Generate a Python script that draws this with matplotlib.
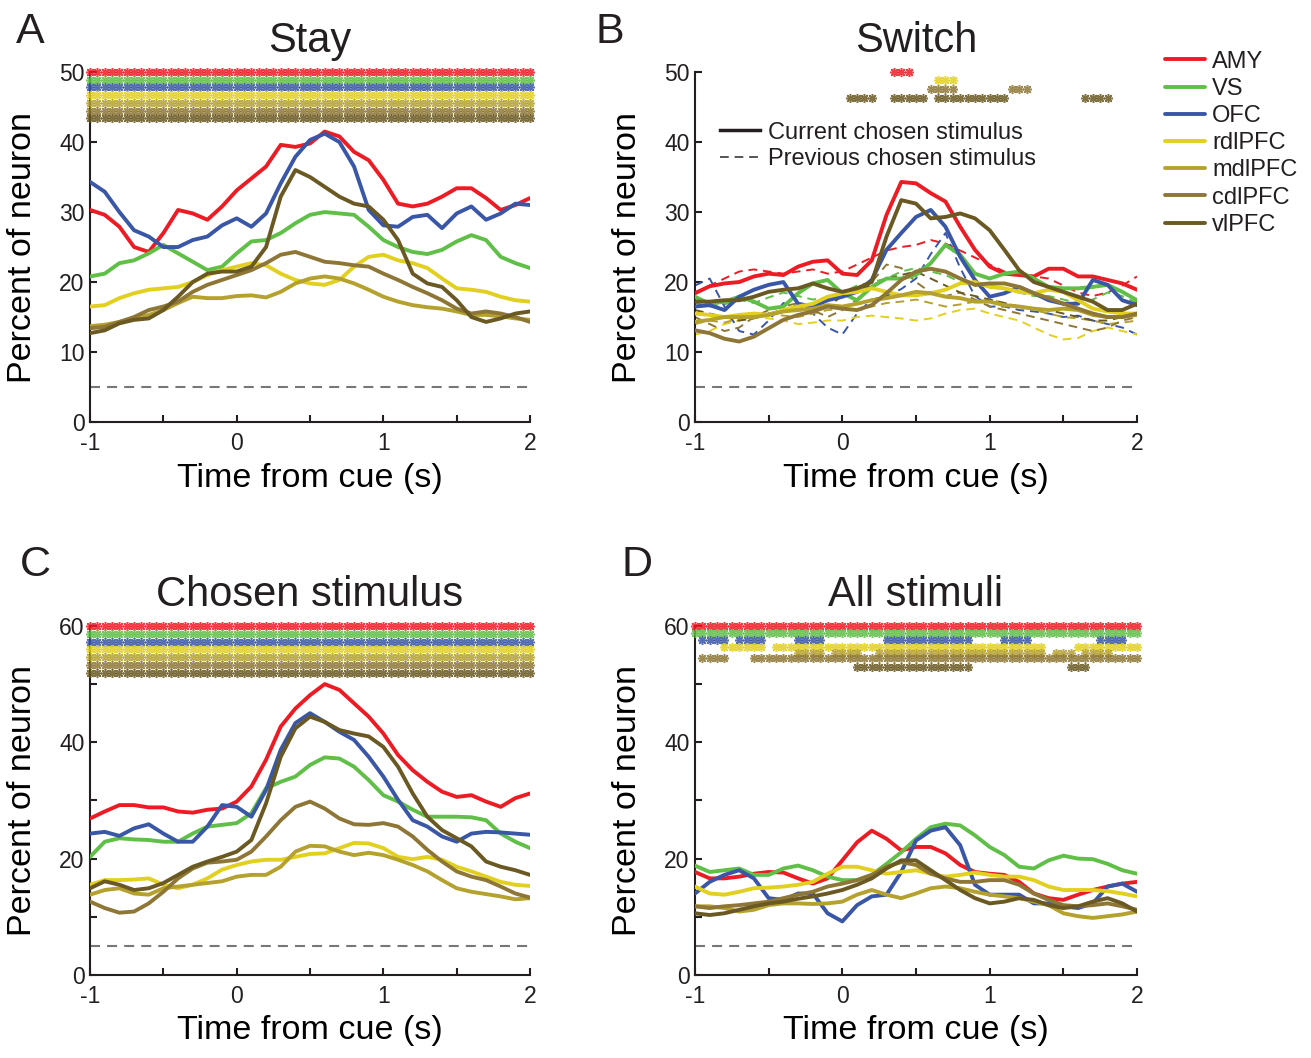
import numpy as np
import matplotlib
matplotlib.use('Agg')
import matplotlib.pyplot as plt
from matplotlib.lines import Line2D

plt.rcParams['font.family'] = ['Liberation Sans', 'DejaVu Sans']
plt.rcParams['text.color'] = '#231f20'

regions = ['AMY', 'VS', 'OFC', 'rdlPFC', 'mdlPFC', 'cdlPFC', 'vlPFC']
colors = ['#ed1c24', '#5fbf46', '#3a56a6', '#e2d020', '#b5a22e', '#8e7736', '#6a5922']

# time from cue (s), 0.1 s steps
time = np.round(np.arange(-1, 2.001, 0.1), 2)
chance = 5

# ---- A: Stay ----
stay_amy = [30.3, 29.6, 27.9, 25.0, 24.3, 27.0, 30.3, 29.8, 28.9, 30.8, 33.1, 34.8, 36.5, 39.6, 39.3, 39.8,
            41.5, 40.8, 38.6, 37.4, 34.6, 31.2, 30.8, 31.2, 32.2, 33.4, 33.4, 32.0, 30.3, 31.0, 32.0]
stay_vs = [20.8, 21.2, 22.7, 23.1, 24.1, 25.3, 24.1, 22.9, 21.7, 22.2, 24.1, 25.8, 26.0, 27.0, 28.4, 29.6,
           30.0, 29.8, 29.6, 27.9, 26.0, 25.0, 24.3, 24.0, 24.6, 25.8, 26.7, 26.0, 23.6, 22.7, 22.0]
stay_ofc = [34.3, 32.9, 30.0, 27.4, 26.5, 25.0, 25.0, 26.0, 26.5, 28.1, 29.1, 27.9, 29.8, 34.1, 37.9, 40.3,
            41.2, 40.0, 36.5, 30.3, 28.1, 27.9, 29.3, 29.6, 27.7, 29.8, 30.8, 28.9, 29.8, 31.2, 31.0]
stay_rdl = [16.5, 16.7, 17.7, 18.4, 18.9, 19.1, 19.3, 20.0, 21.0, 21.7, 22.2, 22.7, 22.4, 21.2, 20.3, 19.8,
            19.6, 20.3, 22.2, 23.6, 23.9, 23.1, 22.7, 22.0, 20.5, 19.1, 18.9, 18.6, 17.9, 17.4, 17.2]
stay_mdl = [13.7, 13.9, 14.3, 14.8, 15.3, 16.0, 17.0, 17.9, 17.7, 17.7, 18.0, 18.1, 17.8, 18.6, 19.8, 20.5,
            20.8, 20.5, 19.8, 18.9, 17.9, 17.2, 16.7, 16.4, 16.2, 15.8, 15.3, 15.3, 15.1, 14.8, 14.6]
stay_cdl = [13.4, 13.6, 14.3, 15.0, 16.0, 16.5, 17.2, 18.6, 19.6, 20.3, 21.0, 21.7, 22.7, 23.9, 24.3, 23.6,
            22.9, 22.7, 22.4, 22.2, 21.2, 20.3, 19.3, 18.4, 17.4, 16.2, 15.5, 15.8, 15.5, 15.0, 14.3]
stay_vl = [12.7, 13.1, 14.1, 14.6, 14.8, 16.0, 17.9, 20.0, 21.2, 21.5, 21.5, 22.2, 25.0, 32.2, 36.0, 35.0,
           33.6, 32.2, 31.2, 30.8, 28.9, 26.0, 21.2, 19.8, 19.3, 17.4, 15.0, 14.3, 14.8, 15.5, 15.8]

# ---- B: Switch, current chosen stimulus ----
switch_amy = [18.4, 19.4, 19.8, 20.0, 20.8, 21.2, 21.0, 22.2, 22.9, 23.1, 21.2, 21.0, 23.1, 29.6, 34.3, 34.1,
              32.7, 31.5, 27.9, 24.6, 22.2, 21.2, 21.0, 20.8, 21.9, 21.9, 20.8, 20.8, 20.3, 19.8, 18.9]
switch_vs = [17.9, 16.9, 17.2, 17.9, 17.2, 16.2, 16.5, 18.4, 19.8, 20.3, 18.4, 17.4, 19.3, 20.5, 20.5, 21.0,
             22.7, 25.3, 23.9, 21.2, 20.5, 21.2, 21.5, 20.5, 19.3, 19.1, 19.1, 19.3, 19.6, 18.6, 17.4]
switch_ofc = [16.5, 16.7, 16.0, 17.9, 18.9, 19.6, 20.0, 16.9, 16.5, 17.4, 17.9, 18.6, 20.3, 24.6, 27.0, 29.3,
              30.3, 27.9, 23.6, 20.3, 17.9, 18.4, 19.3, 18.4, 17.4, 16.9, 16.9, 20.3, 19.6, 17.4, 16.7]
switch_rdl = [15.5, 15.3, 15.0, 15.3, 15.5, 15.3, 16.0, 16.5, 16.9, 17.9, 18.4, 18.6, 19.1, 18.6, 18.1, 18.1,
              18.4, 18.9, 19.8, 20.0, 19.3, 19.1, 18.6, 18.4, 18.9, 18.6, 17.4, 16.2, 15.8, 15.5, 15.5]
switch_mdl = [14.3, 14.6, 15.0, 15.0, 15.0, 15.3, 15.8, 16.0, 16.2, 16.7, 16.5, 16.9, 17.4, 17.7, 18.1, 18.6,
              18.4, 17.9, 17.7, 17.2, 17.2, 16.7, 16.5, 16.2, 16.0, 16.2, 16.0, 15.3, 15.0, 15.0, 15.3]
switch_cdl = [13.1, 12.7, 11.9, 11.5, 12.2, 13.4, 14.6, 15.3, 15.8, 16.5, 16.2, 16.0, 16.7, 18.4, 20.3, 21.5,
              21.9, 21.5, 20.5, 19.6, 19.8, 19.8, 19.3, 18.4, 17.7, 16.9, 16.2, 15.5, 15.0, 15.0, 15.5]
switch_vl = [17.2, 17.2, 17.4, 17.4, 17.9, 18.6, 18.9, 19.1, 19.8, 19.1, 18.6, 19.1, 20.0, 26.5, 31.7, 31.2,
             29.1, 29.3, 29.8, 29.1, 27.4, 24.6, 21.7, 20.0, 19.3, 18.6, 17.9, 17.2, 16.0, 16.0, 16.9]

# ---- B: Switch, previous chosen stimulus ----
prev_amy = [18.5, 19.5, 20.5, 21.5, 21.8, 21.5, 21.2, 21.5, 21.8, 21.2, 21.5, 22.5, 23.5, 24.5, 25.0, 25.3,
            26.0, 25.5, 24.5, 23.5, 22.5, 21.5, 21.0, 20.8, 20.5, 19.5, 18.5, 18.0, 18.5, 19.5, 20.8]
prev_vs = [17.0, 16.5, 16.8, 17.5, 17.0, 17.8, 18.5, 18.0, 17.5, 17.8, 18.5, 19.5, 20.0, 20.5, 21.5, 22.0,
           21.5, 21.0, 20.0, 19.5, 19.5, 19.0, 18.5, 18.0, 18.0, 17.5, 17.0, 17.5, 18.5, 18.0, 17.0]
prev_ofc = [19.5, 20.5, 16.5, 13.0, 12.5, 14.5, 17.0, 16.5, 15.5, 13.5, 12.5, 15.5, 17.5, 18.0, 19.0, 20.5,
            24.0, 27.0, 22.0, 18.0, 16.5, 16.5, 16.0, 15.8, 15.5, 15.0, 15.2, 14.5, 14.0, 13.5, 12.5]
prev_rdl = [12.5, 13.0, 14.0, 14.5, 15.0, 14.8, 14.5, 14.0, 14.2, 14.5, 14.5, 15.0, 15.2, 15.0, 14.8, 14.5,
            14.8, 15.5, 16.0, 16.2, 15.5, 15.0, 14.5, 13.5, 12.5, 11.8, 12.0, 13.0, 13.5, 13.0, 12.5]
prev_mdl = [14.0, 14.5, 14.2, 14.8, 15.2, 15.5, 15.2, 15.0, 15.5, 16.0, 16.2, 16.0, 16.5, 17.0, 17.2, 17.5,
            17.0, 16.5, 16.8, 17.2, 17.5, 17.0, 16.5, 16.0, 15.5, 15.0, 14.8, 14.5, 14.0, 14.2, 14.5]
prev_cdl = [15.0, 14.0, 13.0, 13.5, 15.0, 16.0, 16.5, 17.0, 16.0, 15.0, 16.0, 17.5, 20.0, 22.5, 22.0, 20.0,
            18.5, 18.0, 18.5, 17.5, 16.5, 16.0, 15.5, 15.0, 14.5, 14.0, 13.5, 13.0, 13.5, 14.5, 15.0]
prev_vl = [16.0, 15.5, 15.0, 14.5, 14.8, 15.5, 16.0, 16.5, 16.0, 16.5, 18.0, 19.0, 19.5, 20.5, 21.0, 21.5,
           20.5, 19.5, 18.5, 18.0, 17.5, 17.0, 16.5, 16.2, 16.0, 15.5, 15.0, 14.5, 14.5, 15.0, 15.5]

# ---- C: Chosen stimulus ----
chosen_amy = [26.9, 28.1, 29.2, 29.2, 28.8, 28.8, 28.1, 27.9, 28.4, 28.6, 29.8, 32.4, 37.0, 42.7, 45.8, 48.1,
              50.0, 49.0, 46.7, 44.4, 41.5, 37.8, 35.2, 33.2, 31.5, 30.6, 30.9, 29.8, 28.9, 30.4, 31.2]
chosen_vs = [20.3, 22.9, 23.5, 23.3, 23.2, 22.9, 22.9, 24.3, 25.5, 25.8, 26.1, 27.8, 32.1, 33.2, 34.1, 36.1,
             37.4, 37.2, 35.8, 33.5, 30.9, 29.8, 28.4, 27.2, 27.2, 27.2, 27.1, 26.6, 24.3, 22.9, 21.8]
chosen_ofc = [24.3, 24.6, 23.9, 25.2, 25.9, 24.3, 22.9, 22.9, 25.5, 29.2, 28.9, 27.2, 31.8, 38.7, 43.3, 45.0,
              43.5, 41.8, 40.4, 37.5, 34.1, 30.1, 26.6, 25.5, 23.8, 22.9, 24.3, 24.6, 24.5, 24.3, 24.1]
chosen_rdl = [15.5, 16.3, 16.3, 16.4, 16.6, 15.5, 14.9, 15.5, 16.6, 18.1, 18.9, 19.5, 19.8, 19.8, 20.3, 20.8,
              20.9, 21.8, 22.7, 22.6, 21.8, 20.3, 19.9, 20.3, 19.8, 18.6, 17.8, 16.9, 16.0, 15.5, 15.3]
chosen_mdl = [13.8, 14.6, 14.9, 14.0, 13.8, 14.9, 15.2, 15.5, 15.8, 16.1, 16.9, 17.2, 17.2, 18.6, 21.2, 22.2,
              22.1, 21.2, 20.6, 21.0, 20.6, 19.8, 18.9, 17.8, 16.3, 14.9, 14.3, 13.9, 13.5, 13.0, 13.2]
chosen_cdl = [12.6, 11.5, 10.7, 10.9, 12.3, 14.3, 16.6, 18.3, 19.3, 19.5, 19.8, 21.2, 23.8, 26.6, 28.9, 29.8,
              28.6, 26.9, 25.9, 25.8, 26.1, 25.5, 23.8, 21.5, 19.5, 17.8, 16.9, 16.3, 15.2, 14.0, 13.3]
chosen_vl = [14.9, 16.1, 15.5, 14.6, 14.9, 15.8, 17.2, 18.6, 19.5, 20.3, 21.2, 23.2, 29.5, 37.5, 42.4, 44.4,
             43.5, 42.1, 41.5, 41.0, 39.2, 35.8, 31.2, 27.2, 24.9, 23.5, 22.1, 19.5, 18.6, 18.0, 17.2]

# ---- D: All stimuli ----
all_amy = [17.7, 16.6, 16.6, 16.9, 17.4, 17.7, 17.6, 16.6, 15.7, 16.6, 19.7, 22.8, 24.8, 23.4, 21.4, 22.0,
           22.0, 20.9, 18.9, 17.7, 17.4, 17.2, 16.0, 14.0, 13.2, 12.9, 13.8, 14.6, 15.2, 15.7, 16.0]
all_vs = [18.8, 17.7, 18.0, 18.3, 17.2, 17.2, 18.3, 18.8, 18.0, 16.9, 16.3, 16.3, 17.2, 19.1, 21.1, 23.4,
          25.4, 26.0, 25.7, 24.0, 22.0, 20.6, 18.6, 18.3, 19.7, 20.5, 20.0, 19.9, 19.1, 18.0, 17.4]
all_ofc = [14.0, 16.0, 17.2, 18.0, 16.6, 13.2, 12.9, 14.0, 14.0, 10.6, 9.2, 12.0, 13.5, 13.8, 17.7, 23.1,
           24.8, 25.4, 22.3, 15.5, 13.8, 13.8, 13.8, 12.3, 12.3, 11.8, 11.5, 12.3, 15.2, 15.7, 14.3]
all_rdl = [15.2, 14.0, 13.8, 14.3, 14.9, 15.0, 15.2, 15.5, 16.0, 17.4, 18.6, 18.6, 18.0, 17.4, 17.7, 18.0,
           17.4, 16.9, 17.2, 17.6, 17.2, 16.9, 16.9, 16.3, 15.2, 14.6, 14.6, 14.6, 14.4, 14.0, 13.5]
all_mdl = [11.8, 11.8, 11.5, 10.9, 11.2, 12.0, 12.3, 12.3, 12.2, 12.3, 12.6, 13.8, 14.6, 13.8, 13.2, 14.0,
           14.9, 15.2, 14.9, 14.3, 13.8, 13.5, 13.2, 12.6, 12.0, 10.6, 10.1, 9.8, 10.1, 10.4, 10.9]
all_cdl = [11.8, 11.5, 11.8, 12.0, 12.3, 12.6, 13.2, 13.8, 14.3, 15.2, 15.7, 16.3, 17.2, 18.6, 19.4, 18.9,
           17.4, 16.6, 16.0, 16.0, 16.3, 16.3, 15.5, 14.0, 12.9, 12.0, 11.8, 12.0, 12.3, 11.8, 11.2]
all_vl = [10.6, 10.3, 10.6, 11.2, 11.8, 12.3, 12.6, 13.1, 13.5, 14.0, 14.6, 15.5, 16.6, 18.3, 19.7, 19.7,
          18.0, 16.3, 14.6, 13.2, 12.3, 12.6, 13.2, 12.9, 12.0, 11.5, 11.8, 12.6, 13.2, 12.3, 10.9]

# significance rows: (start, end) segments of significant 50 ms bins, per region
full = [(-1, 2)]
stay_sig = [full] * 7
stay_sig_y = [50, 48.9, 47.8, 46.7, 45.6, 44.5, 43.4]
chosen_sig = [full] * 7
chosen_sig_y = [60, 58.6, 57.3, 56.0, 54.6, 53.2, 51.9]
all_sig = [full, full,
           [(-0.95, -0.8), (-0.7, -0.55), (-0.3, -0.15), (0.3, 0.85), (1.1, 1.25), (1.75, 1.9)],
           [(-0.8, -0.55), (-0.45, -0.35), (-0.3, 1.35), (1.6, 2.0)],
           [(-0.3, -0.15), (-0.05, 0.1), (0.25, 1.35), (1.45, 1.55), (1.65, 1.8)],
           [(-0.95, -0.8), (-0.6, 2.0)],
           [(0.1, 0.85), (1.55, 1.65)]]
all_sig_y = [60, 58.8, 57.6, 56.4, 55.4, 54.4, 53.0]
# switch: (region index, segments, row height)
switch_sig = [(0, [(0.35, 0.45)], 50.0),
              (3, [(0.65, 0.75)], 48.8),
              (5, [(0.6, 0.75), (1.15, 1.25)], 47.6),
              (6, [(0.05, 0.2), (0.35, 0.55), (0.65, 1.1), (1.65, 1.8)], 46.3)]


def draw_sig(ax, idx, segs, y):
    for a, b in segs:
        xs = np.arange(a, b + 0.001, 0.05)
        ax.plot(xs, np.full(len(xs), y), ls='none', marker=(8, 2, 0), ms=6.5, mew=1.1,
                color=colors[idx], alpha=0.85, clip_on=False, zorder=4)


def style_axes(ax, ymax, ystep, labelstep, title, letter):
    ax.set_xlim(-1, 2)
    ax.set_ylim(0, ymax)
    ax.set_xticks(np.arange(-1, 2.01, 0.5))
    ax.set_xticklabels(['-1', '', '0', '', '1', '', '2'])
    yt = np.arange(0, ymax + 0.1, ystep)
    ax.set_yticks(yt)
    ax.set_yticklabels([f'{v:g}' if v % labelstep == 0 else '' for v in yt])
    for s in ['top', 'right']:
        ax.spines[s].set_visible(False)
    for s in ['left', 'bottom']:
        ax.spines[s].set_linewidth(1.5)
        ax.spines[s].set_color('#231f20')
    ax.tick_params(direction='in', length=5, width=1.5, labelsize=16.5, colors='#231f20')
    ax.tick_params(axis='x', pad=7)
    ax.tick_params(axis='y', pad=4)
    ax.set_xlabel('Time from cue (s)', fontsize=24.5)
    ax.set_ylabel('Percent of neuron', fontsize=24.5)
    ax.xaxis.set_label_coords(0.5, -0.116)
    ax.yaxis.set_label_coords(-0.118, 0.5)
    ax.text(0.5, 1.088, title, transform=ax.transAxes, ha='center', va='center', fontsize=30)
    ax.text(letter[1], letter[2], letter[0], transform=ax.transAxes, ha='center', va='center', fontsize=31)
    ax.axhline(chance, color='#777777', lw=1.5, dashes=(4.8, 3.4), zorder=1)


fig = plt.figure(figsize=(13.11, 10.58), dpi=100)
ax_a = fig.add_axes([0.0687, 0.6011, 0.3356, 0.3308])
ax_b = fig.add_axes([0.5301, 0.6011, 0.3372, 0.3308])
ax_c = fig.add_axes([0.0687, 0.0785, 0.3356, 0.3299])
ax_d = fig.add_axes([0.5301, 0.0785, 0.3372, 0.3299])

stay = [stay_amy, stay_vs, stay_ofc, stay_rdl, stay_mdl, stay_cdl, stay_vl]
switch = [switch_amy, switch_vs, switch_ofc, switch_rdl, switch_mdl, switch_cdl, switch_vl]
prev = [prev_amy, prev_vs, prev_ofc, prev_rdl, prev_mdl, prev_cdl, prev_vl]
chosen = [chosen_amy, chosen_vs, chosen_ofc, chosen_rdl, chosen_mdl, chosen_cdl, chosen_vl]
allstim = [all_amy, all_vs, all_ofc, all_rdl, all_mdl, all_cdl, all_vl]

lw = 2.8
for ax, data in [(ax_a, stay), (ax_c, chosen), (ax_d, allstim)]:
    for vals, c in zip(data, colors):
        ax.plot(time, vals, color=c, lw=lw, solid_joinstyle='round', solid_capstyle='round', zorder=3)

for vals, c in zip(prev, colors):
    ax_b.plot(time, vals, color=c, lw=1.4, dashes=(4.5, 3.0), zorder=2)
handles = []
for vals, c, name in zip(switch, colors, regions):
    h, = ax_b.plot(time, vals, color=c, lw=lw, solid_joinstyle='round', solid_capstyle='round',
                   zorder=3, label=name)
    handles.append(h)

for i in range(7):
    draw_sig(ax_a, i, stay_sig[i], stay_sig_y[i])
    draw_sig(ax_c, i, chosen_sig[i], chosen_sig_y[i])
    draw_sig(ax_d, i, all_sig[i], all_sig_y[i])
for idx, segs, y in switch_sig:
    draw_sig(ax_b, idx, segs, y)

style_axes(ax_a, 50, 10, 10, 'Stay', ('A', -0.136, 1.115))
style_axes(ax_b, 50, 10, 10, 'Switch', ('B', -0.192, 1.115))
style_axes(ax_c, 60, 10, 20, 'Chosen stimulus', ('C', -0.125, 1.175))
style_axes(ax_d, 60, 10, 20, 'All stimuli', ('D', -0.131, 1.175))

# line style legend inside B
style_handles = [Line2D([], [], color='#231f20', lw=2.5),
                 Line2D([], [], color='#555555', lw=1.4, dashes=(4.5, 3.0))]
ax_b.legend(style_handles, ['Current chosen stimulus', 'Previous chosen stimulus'],
            loc='upper left', bbox_to_anchor=(0.035, 0.885), frameon=False, fontsize=17,
            handlelength=1.7, handletextpad=0.34, labelspacing=0.18, borderaxespad=0)

# region legend to the right of B
fig.legend(handles, regions, loc='upper left', bbox_to_anchor=(0.8815, 0.961), frameon=False,
           fontsize=17, handlelength=1.7, handletextpad=0.3, labelspacing=0.22, borderaxespad=0)

fig.savefig('out.png', dpi=100, facecolor='white')
